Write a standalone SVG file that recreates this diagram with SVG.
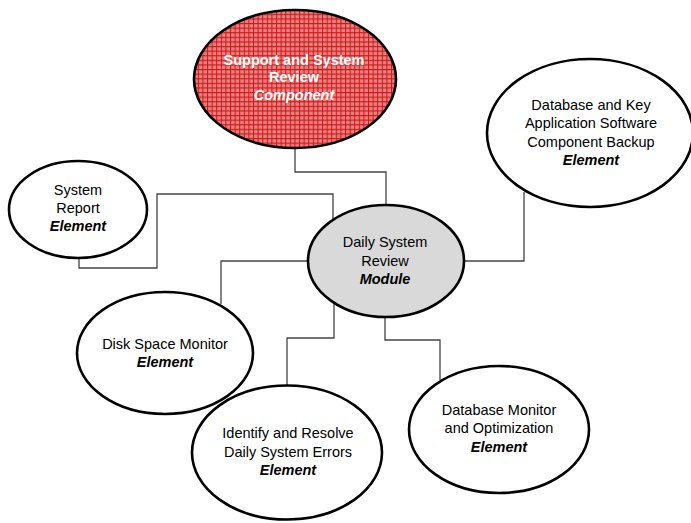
<svg xmlns="http://www.w3.org/2000/svg" width="691" height="523" viewBox="0 0 691 523">
<defs>
<pattern id="grid" width="4.6" height="4.6" patternUnits="userSpaceOnUse">
<rect width="4.6" height="4.6" fill="#e88282"/>
<path d="M0 0.5H4.6M0.5 0V4.6" stroke="#d01818" stroke-width="1.1" fill="none"/>
</pattern>
</defs>
<style>
.node{stroke:#000;stroke-width:2.6}
.el{fill:#fff}
.t{font-family:"Liberation Sans",Arial,sans-serif;font-size:14.5px;text-anchor:middle;fill:#000}
.b{font-weight:bold;font-style:italic}
.w{fill:#fff;font-weight:bold}
.conn{fill:none;stroke:#444;stroke-width:1.3}
</style>
<rect width="691" height="523" fill="#fff"/>
<g id="connectors" class="conn">
<path d="M295 148V172H386V206"/>
<path d="M79 258V268H157V194H333V219"/>
<path d="M464 261H524V192"/>
<path d="M308 261H221V304"/>
<path d="M334 303V338H287V388"/>
<path d="M385 315V340H440V380"/>
</g>
<g id="support">
<ellipse class="node" cx="295" cy="79" rx="101" ry="69" fill="url(#grid)"/>
<text class="t w" x="294" y="65">Support and System</text>
<text class="t w" x="294" y="82">Review</text>
<text class="t w" x="294" y="100" font-style="italic">Component</text>
</g>
<g id="daily">
<ellipse class="node" cx="386" cy="261" rx="78" ry="56" fill="#d9d9d9"/>
<text class="t" x="385" y="247">Daily System</text>
<text class="t" x="385" y="266">Review</text>
<text class="t b" x="385" y="284">Module</text>
</g>
<g id="dbbackup">
<ellipse class="node el" cx="590" cy="133" rx="103" ry="74"/>
<text class="t" x="591" y="110">Database and Key</text>
<text class="t" x="591" y="128">Application Software</text>
<text class="t" x="591" y="147">Component Backup</text>
<text class="t b" x="591" y="165">Element</text>
</g>
<g id="sysreport">
<ellipse class="node el" cx="78" cy="209.5" rx="69" ry="48.5"/>
<text class="t" x="78" y="195">System</text>
<text class="t" x="78" y="213">Report</text>
<text class="t b" x="78" y="231">Element</text>
</g>
<g id="disk">
<ellipse class="node el" cx="165" cy="353" rx="88" ry="61"/>
<text class="t" x="165" y="349">Disk Space Monitor</text>
<text class="t b" x="165" y="367">Element</text>
</g>
<g id="identify">
<ellipse class="node el" cx="287" cy="452.5" rx="95" ry="67"/>
<text class="t" x="288" y="438">Identify and Resolve</text>
<text class="t" x="288" y="457">Daily System Errors</text>
<text class="t b" x="288" y="475">Element</text>
</g>
<g id="dbmonitor">
<ellipse class="node el" cx="499" cy="429.5" rx="90" ry="63.5"/>
<text class="t" x="499" y="415">Database Monitor</text>
<text class="t" x="499" y="433">and Optimization</text>
<text class="t b" x="499" y="452">Element</text>
</g>
</svg>
